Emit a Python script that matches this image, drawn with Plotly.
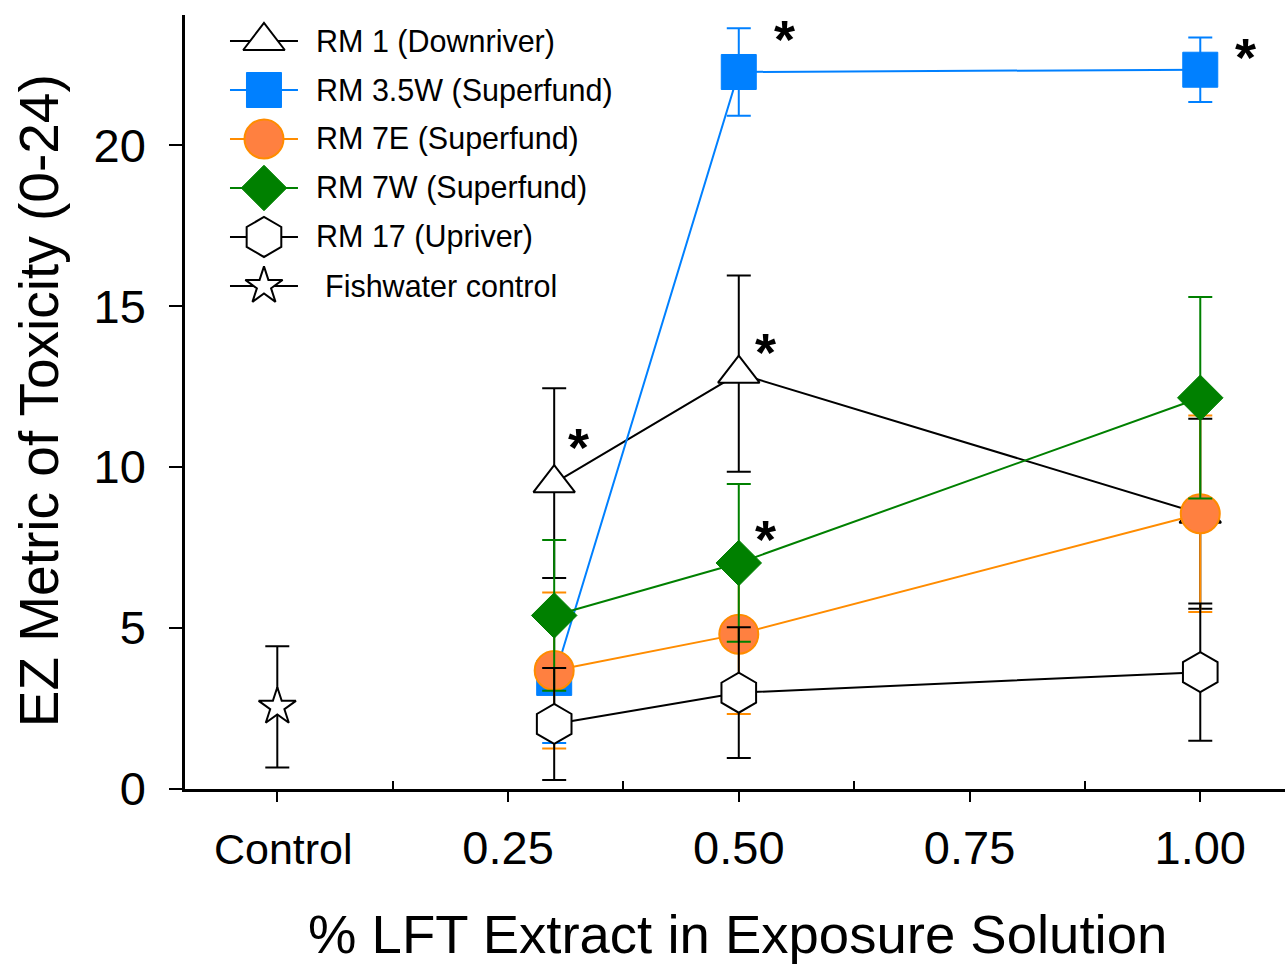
import plotly.graph_objects as go

# ---------------- data ----------------
conc = [0.3, 0.5, 1.0]

rm1_mean = [9.5, 12.9, 8.55]
rm1_err = [2.95, 3.05, 2.95]

rm35w_mean = [3.45, 22.27, 22.34]
rm35w_err = [2.02, 1.36, 1.0]

rm7e_mean = [3.68, 4.81, 8.55]
rm7e_err = [2.42, 2.48, 3.05]

rm7w_mean = [5.39, 7.02, 12.15]
rm7w_err = [2.34, 2.45, 3.13]

rm17_mean = [2.02, 2.99, 3.63]
rm17_err = [1.74, 2.03, 2.13]

control_x = [0.0]
control_mean = [2.55]
control_err = [1.88]

x_tickvals = [0, 0.25, 0.5, 0.75, 1.0]
x_ticktext = ["Control", "0.25", "0.50", "0.75", "1.00"]
x_minor_vals = [0.125, 0.375, 0.625, 0.875]
y_tickvals = [0, 5, 10, 15, 20]

sig_x = [0.326, 0.529, 0.529, 0.549, 1.049]
sig_y = [10.9, 13.85, 8.04, 23.57, 23.01]

names = ["RM 1 (Downriver)", "RM 3.5W (Superfund)", "RM 7E (Superfund)",
         "RM 7W (Superfund)", "RM 17 (Upriver)", "Fishwater control"]

FONT = "Liberation Sans, Arial, sans-serif"

styles = [
    dict(symbol="triangle-up", size=36, fill="white", edge="black", ew=2, line="black"),
    dict(symbol="square", size=35, fill="#0080FF", edge="#0080FF", ew=1, line="#0080FF"),
    dict(symbol="circle", size=39, fill="#FF8040", edge="#FF8C00", ew=2, line="#FF8C00"),
    dict(symbol="diamond", size=35, fill="#008000", edge="#008000", ew=1, line="#008000"),
    dict(symbol="hexagon", size=40, fill="white", edge="black", ew=2, line="black"),
    dict(symbol="star", size=28, fill="white", edge="black", ew=2, line="black"),
]

series = [
    (conc, rm1_mean, rm1_err),
    (conc, rm35w_mean, rm35w_err),
    (conc, rm7e_mean, rm7e_err),
    (conc, rm7w_mean, rm7w_err),
    (conc, rm17_mean, rm17_err),
    (control_x, control_mean, control_err),
]

fig = go.Figure()

for name, st, (xs, ys, es) in zip(names, styles, series):
    fig.add_trace(go.Scatter(
        x=xs, y=ys, name=name, mode="lines+markers",
        line=dict(color=st["line"], width=2),
        marker=dict(symbol=st["symbol"], size=st["size"], color=st["fill"],
                    line=dict(color=st["edge"], width=st["ew"])),
        error_y=dict(type="data", array=es, visible=True, color=st["line"],
                     thickness=2, width=12),
        showlegend=False, cliponaxis=False,
    ))

# ---------------- custom legend (overlay axes in 0..1 plot-fraction space) ----------------
leg_rows_y = [0.9664, 0.9031, 0.8398, 0.7765, 0.7132, 0.6499]
leg_x0, leg_xm, leg_x1 = 0.0409, 0.0718, 0.1027
leg_text_x = [0.1175, 0.1175, 0.1175, 0.1175, 0.1175, 0.1255]

for name, st, ly in zip(names, styles, leg_rows_y):
    fig.add_trace(go.Scatter(
        x=[leg_x0, leg_x1], y=[ly, ly], mode="lines",
        line=dict(color=st["line"], width=2), xaxis="x2", yaxis="y2",
        showlegend=False, hoverinfo="skip", cliponaxis=False))
    fig.add_trace(go.Scatter(
        x=[leg_xm], y=[ly], mode="markers",
        marker=dict(symbol=st["symbol"], size=st["size"], color=st["fill"],
                    line=dict(color=st["edge"], width=st["ew"])),
        xaxis="x2", yaxis="y2", showlegend=False, hoverinfo="skip", cliponaxis=False))

annotations = []
for name, ly, tx in zip(names, leg_rows_y, leg_text_x):
    annotations.append(dict(
        x=tx, y=ly, xref="paper", yref="paper", text=name, showarrow=False,
        xanchor="left", yanchor="middle", font=dict(family=FONT, size=30.5, color="black")))

for sx, sy in zip(sig_x, sig_y):
    annotations.append(dict(
        x=sx, y=sy, xref="x", yref="y", text="<b>*</b>", showarrow=False,
        xanchor="center", yanchor="middle", yshift=-9,
        font=dict(family=FONT, size=54, color="black")))

# axis titles
annotations.append(dict(
    x=0.5023, y=-0.1925, xref="paper", yref="paper",
    text="% LFT Extract in Exposure Solution", showarrow=False, yshift=3,
    xanchor="center", yanchor="middle", font=dict(family=FONT, size=54.5, color="black")))
annotations.append(dict(
    x=-0.132, y=0.502, xref="paper", yref="paper",
    text="EZ Metric of Toxicity (0-24)", showarrow=False, textangle=-90,
    xanchor="center", yanchor="middle", font=dict(family=FONT, size=55, color="black")))

x_ticktext_fmt = ['<span style="font-size:43px">&nbsp;Control</span>'] + x_ticktext[1:]

fig.update_layout(
    width=1285, height=966,
    margin=dict(l=185, r=0, t=15, b=177, pad=0),
    paper_bgcolor="white", plot_bgcolor="white",
    font=dict(family=FONT, color="black"),
    showlegend=False,
    xaxis=dict(
        range=[-0.1, 1.0918], tickvals=x_tickvals, ticktext=x_ticktext_fmt,
        ticks="outside", ticklen=10, tickwidth=2, tickcolor="black",
        tickfont=dict(family=FONT, size=47, color="black"),
        showline=True, linecolor="black", linewidth=2.5,
        showgrid=False, zeroline=False, ticklabelstandoff=6,
        minor=dict(tickvals=x_minor_vals, ticks="inside", ticklen=8,
                   tickwidth=2, tickcolor="black", showgrid=False),
    ),
    yaxis=dict(
        range=[0, 24.04], tickvals=y_tickvals,
        ticks="outside", ticklen=13, tickwidth=2, tickcolor="black",
        tickfont=dict(family=FONT, size=47, color="black"),
        showline=True, linecolor="black", linewidth=2.5,
        showgrid=False, zeroline=False, ticklabelstandoff=14,
    ),
    xaxis2=dict(overlaying="x", anchor="y2", range=[0, 1], visible=False, fixedrange=True),
    yaxis2=dict(overlaying="y", anchor="x2", range=[0, 1], visible=False, fixedrange=True),
    annotations=annotations,
)

fig.write_html("out.html", config={"displayModeBar": False},
               post_script="document.body.style.margin='0';document.body.style.overflow='hidden';")
